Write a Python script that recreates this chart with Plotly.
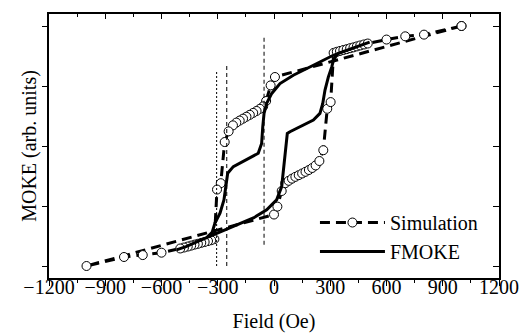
import plotly.graph_objects as go

# ---- data ----
sim_field = [1000, 5, -18, -42, -58, -75, -93, -111, -129, -147, -165, -183, -201, -219,
             -242, -263, -284, -304, -318, -335, -352, -370, -388, -406, -424, -442, -460,
             -480, -500, -600, -700, -800, -1000,
             0, 18, 41, 60, 78, 96, 114, 132, 150, 168, 186, 204, 222, 242, 263, 284, 302,
             318, 335, 352, 370, 388, 406, 424, 442, 460, 480, 500, 600, 700, 800, 1000]
sim_moke = [1.0, 0.575, 0.505, 0.375, 0.33, 0.31, 0.292, 0.276, 0.26, 0.244, 0.228, 0.212,
            0.195, 0.172, 0.122, 0.033, -0.31, -0.363, -0.776, -0.785, -0.792, -0.8, -0.807,
            -0.815, -0.822, -0.83, -0.838, -0.846, -0.854, -0.889, -0.909, -0.925, -1.0,
            -0.571, -0.505, -0.375, -0.31, -0.29, -0.272, -0.257, -0.243, -0.229, -0.215,
            -0.2, -0.183, -0.162, -0.125, -0.035, 0.31, 0.366,
            0.776, 0.785, 0.792, 0.8, 0.807, 0.815, 0.822, 0.83, 0.838, 0.846, 0.854,
            0.887, 0.914, 0.928, 1.0]

fmoke_field = [-520, -466, -400, -324, -217, -110, -39, 14, 41, 53, 64, 71, 85, 139, 210,
               245, 260, 272, 290, 308, 318, 340, 420, 485, 510,
               485, 420, 316, 210, 103, 32, -12, -39, -53, -60, -66, -84, -146, -217, -247,
               -252, -267, -288, -315, -330, -360, -400]
fmoke_moke = [-0.865, -0.837, -0.79, -0.74, -0.67, -0.60, -0.532, -0.449, -0.338, -0.172,
              -0.006, 0.105, 0.119, 0.16, 0.216, 0.272, 0.355, 0.466, 0.576, 0.659, 0.72,
              0.77, 0.815, 0.855, 0.865,
              0.855, 0.815, 0.756, 0.673, 0.59, 0.52, 0.438, 0.355, 0.272, 0.16, 0.022,
              -0.061, -0.116, -0.172, -0.227, -0.283, -0.449, -0.56, -0.643, -0.72, -0.765,
              -0.79]

vline_fields = [-306, -252, -53]
vline_bottoms = [-1.0, -1.0, -0.823]
vline_tops = [0.618, 0.667, 0.909]
vline_dashes = ["2px,2px", "4px,3px", "4px,3px"]

x_ticks = [-1200, -900, -600, -300, 0, 300, 600, 900, 1200]
y_ticks = [-1, -0.5, 0, 0.5, 1]

FONT = "Liberation Serif, Times New Roman, serif"

fig = go.Figure()

fig.add_trace(go.Scatter(
    x=sim_field, y=sim_moke, mode="lines+markers", name="Simulation",
    line=dict(color="black", width=3, dash="10px,6px"),
    marker=dict(symbol="circle", size=9, color="white", line=dict(color="black", width=1)),
))
fig.add_trace(go.Scatter(
    x=fmoke_field, y=fmoke_moke, mode="lines", name="FMOKE",
    line=dict(color="black", width=3),
))
for xf, yb, yt, d in zip(vline_fields, vline_bottoms, vline_tops, vline_dashes):
    fig.add_trace(go.Scatter(
        x=[xf, xf], y=[yb, yt], mode="lines", showlegend=False,
        line=dict(color="black", width=1, dash=d), xaxis="x2", yaxis="y2",
    ))

axis_common = dict(showline=True, linecolor="black", linewidth=1.5, showgrid=False,
                   zeroline=False, tickcolor="black", tickwidth=1, automargin=False)

fig.update_layout(
    width=524, height=333,
    margin=dict(l=49, r=25, t=14, b=55, autoexpand=False),
    paper_bgcolor="white", plot_bgcolor="white",
    font=dict(family=FONT, size=20, color="black"),
    showlegend=True,
    legend=dict(x=0.591, y=0.284, xanchor="left", yanchor="top",
                bgcolor="rgba(0,0,0,0)", borderwidth=0, itemwidth=65,
                font=dict(family=FONT, size=20, color="black"),
                tracegroupgap=0),
    xaxis=dict(range=[-1200, 1200], tickvals=x_ticks, ticks="outside", ticklen=6,
               ticklabelstandoff=-16,
               minor=dict(dtick=150, ticks="outside", ticklen=3, tickcolor="black"),
               title=dict(text="Field (Oe)", font=dict(size=20), standoff=17),
               tickfont=dict(size=20), **axis_common),
    yaxis=dict(range=[-1.1, 1.1], tickvals=y_ticks, ticks="outside", ticklen=5,
               showticklabels=False,
               title=dict(text="MOKE (arb. units)", font=dict(size=20), standoff=0),
               **axis_common),
    xaxis2=dict(range=[-1200, 1200], overlaying="x", side="top", matches="x",
                tickvals=x_ticks, ticks="inside", ticklen=5, showticklabels=False,
                minor=dict(dtick=150, ticks="inside", ticklen=3, tickcolor="black"),
                **axis_common),
    yaxis2=dict(range=[-1.1, 1.1], overlaying="y", side="right", matches="y",
                tickvals=y_ticks, ticks="inside", ticklen=6, showticklabels=False,
                **axis_common),
)

fig.write_html("out.html")
